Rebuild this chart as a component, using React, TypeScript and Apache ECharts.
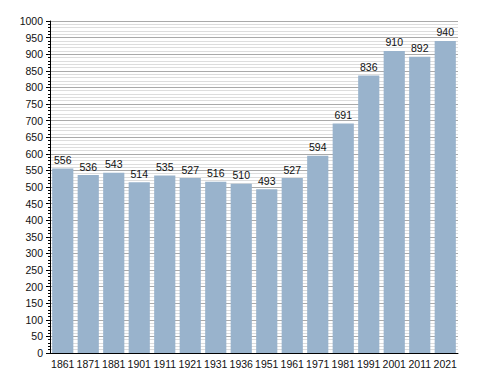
import React, { useEffect, useRef } from "react";
import * as echarts from "echarts";

const years = ["1861", "1871", "1881", "1901", "1911", "1921", "1931", "1936", "1951", "1961", "1971", "1981", "1991", "2001", "2011", "2021"];
const population = [556, 536, 543, 514, 535, 527, 516, 510, 493, 527, 594, 691, 836, 910, 892, 940];

const FONT = "'Liberation Sans', Arial, sans-serif";

export default function App() {
  const ref = useRef<HTMLDivElement>(null);
  useEffect(() => {
    const chart = echarts.init(ref.current!, null, { renderer: "svg" });
    chart.setOption({
      animation: false,
      grid: { left: 50, right: 30, top: 21, bottom: 20, containLabel: false },
      xAxis: {
        type: "category",
        data: years,
        axisLine: { show: true, lineStyle: { color: "#000", width: 1 } },
        axisTick: { show: false },
        axisLabel: { color: "#111", fontSize: 10.5, fontFamily: FONT, margin: 5, interval: 0 },
      },
      yAxis: {
        type: "value",
        min: 0,
        max: 1000,
        interval: 50,
        axisLine: { show: true, lineStyle: { color: "#000", width: 1 } },
        axisTick: { show: true, length: 4, lineStyle: { color: "#000" } },
        minorTick: { show: true, splitNumber: 5, length: 2, lineStyle: { color: "#000" } },
        splitLine: { show: true, lineStyle: { color: "#aaa", width: 1 } },
        minorSplitLine: { show: true, lineStyle: { color: "#ddd", width: 1 } },
        axisLabel: { color: "#111", fontSize: 10.5, fontFamily: FONT, margin: 7, formatter: (v: number) => String(v) },
      },
      series: [
        {
          type: "bar",
          data: population,
          barCategoryGap: "17%",
          itemStyle: { color: "#99b3cc" },
          label: { show: true, position: "top", distance: 3, color: "#111", fontSize: 10.5, fontFamily: FONT },
        },
      ],
    });
    return () => chart.dispose();
  }, []);
  return <div ref={ref} style={{ width: 488, height: 373, position: "absolute", left: 0, top: 0 }} />;
}
